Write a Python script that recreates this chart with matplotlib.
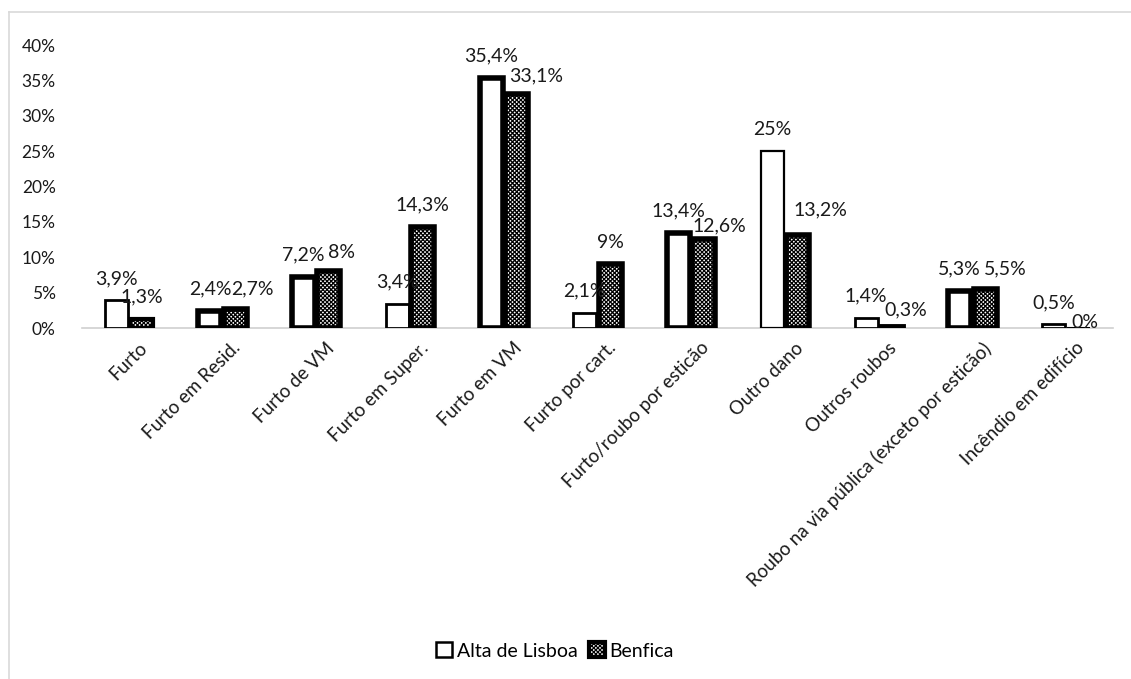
import matplotlib
matplotlib.use("Agg")
import matplotlib.pyplot as plt
from matplotlib.patches import Patch
from matplotlib.lines import Line2D
import numpy as np

categories = [
    "Furto", "Furto em Resid.", "Furto de VM", "Furto em Super.", "Furto em VM",
    "Furto por cart.", "Furto/roubo por esticão", "Outro dano", "Outros roubos",
    "Roubo na via pública (exceto por esticão)", "Incêndio em edifício",
]
alta_de_lisboa = [3.9, 2.4, 7.2, 3.4, 35.4, 2.1, 13.4, 25.0, 1.4, 5.3, 0.5]
benfica = [1.3, 2.7, 8.0, 14.3, 33.1, 9.0, 12.6, 13.2, 0.3, 5.5, 0.0]
alta_labels = ["3,9%", "2,4%", "7,2%", "3,4%", "35,4%", "2,1%", "13,4%", "25%", "1,4%", "5,3%", "0,5%"]
benfica_labels = ["1,3%", "2,7%", "8%", "14,3%", "33,1%", "9%", "12,6%", "13,2%", "0,3%", "5,5%", "0%"]
series_names = ["Alta de Lisboa", "Benfica"]
y_ticks = [0, 5, 10, 15, 20, 25, 30, 35, 40]

# border weights per bar (heavier outline on highlighted bars)
alta_lw = [2.0, 4.0, 4.0, 2.0, 4.0, 2.0, 4.0, 1.6, 2.0, 4.0, 2.0]
benfica_lw = [3.0, 4.0, 4.0, 4.0, 4.0, 4.0, 4.0, 4.0, 3.5, 4.0, 1.5]
# label nudges for Benfica values (pixels) where labels would collide
benfica_nudge = [(0, 0), (17, -2), (13, -3), (0, 0), (20, -4), (0, 0), (15, -9),
                 (23, 3), (14, -6), (20, -2), (6, -16)]

plt.rcParams["font.family"] = ["Lato", "DejaVu Sans"]
plt.rcParams["hatch.linewidth"] = 0.9

FS = 14

fig = plt.figure(figsize=(11.31, 6.79), dpi=100)
ax = fig.add_axes([82 / 1131, 1 - 328 / 679, (1113 - 82) / 1131, (328 - 45) / 679])

x = np.arange(len(categories))
w = 0.245
off = 0.135

bars_a = ax.bar(x - off, alta_de_lisboa, w, facecolor="white", edgecolor="black",
                linewidth=alta_lw, zorder=3)
bars_b = ax.bar(x + off, benfica, w, facecolor="white", edgecolor="black",
                hatch="xxxxxxxx", linewidth=benfica_lw, zorder=3)

for bar, lab in zip(bars_a, alta_labels):
    ax.annotate(lab, (bar.get_x() + bar.get_width() / 2, bar.get_height()),
                xytext=(0, 22), textcoords="offset pixels",
                ha="center", va="center", fontsize=FS, color="#1a1a1a", zorder=5)
for bar, lab, (dx, dy) in zip(bars_b, benfica_labels, benfica_nudge):
    ax.annotate(lab, (bar.get_x() + bar.get_width() / 2, bar.get_height()),
                xytext=(dx, 22 + dy), textcoords="offset pixels",
                ha="center", va="center", fontsize=FS, color="#1a1a1a", zorder=5)

ax.set_xlim(-0.5, len(categories) - 0.5)
ax.set_ylim(0, 40)
ax.set_yticks(y_ticks)
ax.set_yticklabels([f"{t}%" for t in y_ticks], fontsize=12.5, color="#1a1a1a")
# rotated category labels: anchor slightly right of the group centre
ax.set_xticks(x + 0.1)
ax.set_xticklabels(categories, rotation=45, ha="right", rotation_mode="anchor",
                   fontsize=13.5, color="#1a1a1a")
ax.tick_params(axis="both", length=0)
ax.tick_params(axis="y", pad=19)
ax.tick_params(axis="x", pad=8)
for s in ["top", "right", "left"]:
    ax.spines[s].set_visible(False)
ax.spines["bottom"].set_color("#d0d0d0")
ax.spines["bottom"].set_linewidth(1.2)
ax.spines["bottom"].set_zorder(2)

handles = [
    Patch(facecolor="white", edgecolor="black", linewidth=1.8),
    Patch(facecolor="white", edgecolor="black", hatch="xxxxxxxx", linewidth=3.0),
]
fig.legend(handles, series_names, loc="center", bbox_to_anchor=(555 / 1131, 1 - 651 / 679),
           ncol=2, frameon=False, fontsize=FS, handlelength=0.8, handleheight=0.8,
           handletextpad=0.25, columnspacing=0.6)

# light chart-area border
fig.add_artist(Line2D([9 / 1131, 9 / 1131], [0, 1 - 12 / 679], transform=fig.transFigure,
                      color="#d9d9d9", linewidth=1.2))
fig.add_artist(Line2D([9 / 1131, 1], [1 - 12 / 679, 1 - 12 / 679], transform=fig.transFigure,
                      color="#d9d9d9", linewidth=1.2))

fig.savefig("out.png", dpi=100, facecolor="white")
